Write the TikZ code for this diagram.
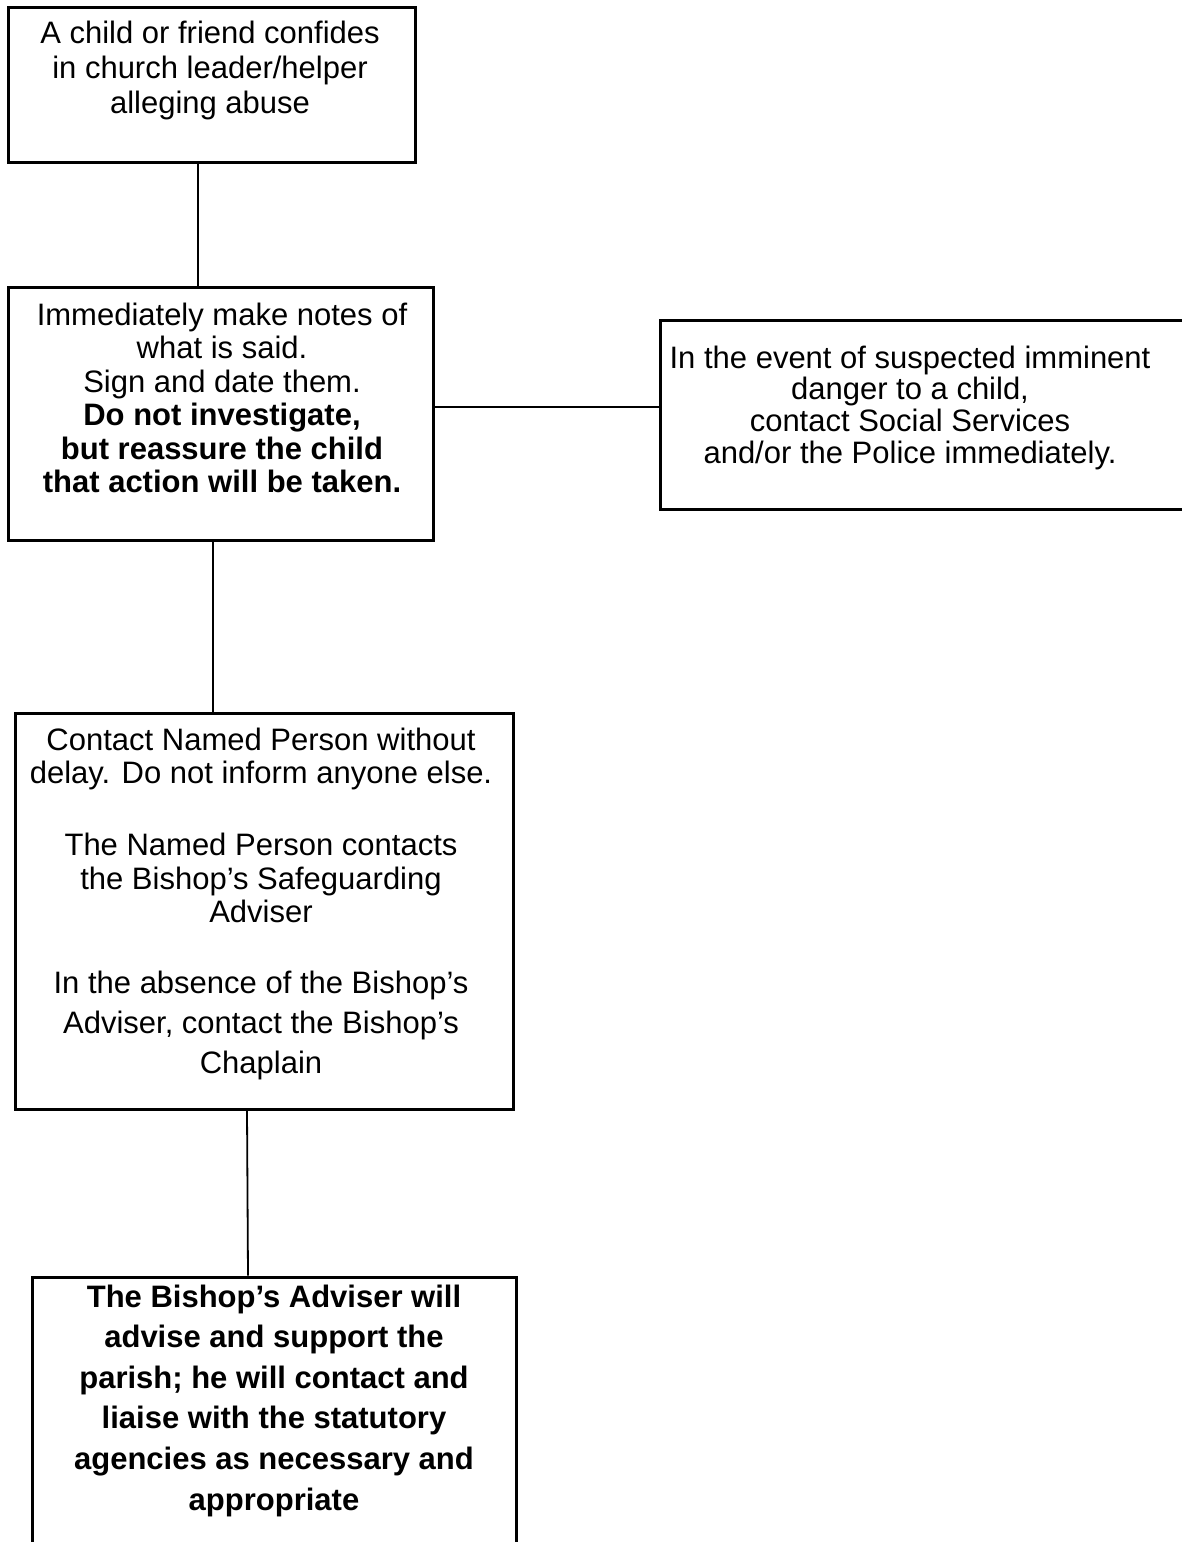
\documentclass[tikz,border=0pt]{standalone}
\usepackage{fontspec}
\setmainfont{Liberation Sans}
\begin{document}
\begin{tikzpicture}[x=1pt,y=-1pt,
  boxstyle/.style={draw=black,line width=3pt,rectangle,inner sep=0pt},
  conn/.style={draw=black,line width=1.8pt},
  txt/.style={align=center,inner sep=0pt,anchor=north,font=\fontsize{31}{33.5}\selectfont}]
\useasboundingbox (0,0) rectangle (1182,1542);
\clip (0,0) rectangle (1182,1542);
% boxes
\node[boxstyle,minimum width=407pt,minimum height=155pt] (b1) at (211.5,84.5) {};
\node[boxstyle,minimum width=425pt,minimum height=253pt] (b2) at (220.5,413.5) {};
\node[boxstyle,minimum width=540pt,minimum height=189pt] (b3) at (930,414.5) {};
\node[boxstyle,minimum width=498pt,minimum height=396pt] (b4) at (264,911) {};
\node[boxstyle,minimum width=484pt,minimum height=300pt] (b5) at (274,1427) {};
% texts
\node[txt,font=\fontsize{31}{35}\selectfont] (t1) at (210,20.5) {A child or friend confides\\in church leader/helper\\alleging abuse};
\node[txt] (t2) at (222,302.5) {Immediately make notes of\\what is said.\\Sign and date them.\\\textbf{Do not investigate,}\\\textbf{but reassure the child}\\\textbf{that action will be taken.}};
\node[txt,font=\fontsize{31}{31.7}\selectfont] (t3) at (910,345.5) {In the event of suspected imminent\\danger to a child,\\contact Social Services\\and/or the Police immediately.};
\node[txt] (t4) at (261,727.5) {Contact Named Person without\\delay. Do not inform anyone else.\\[38.5pt]The Named Person contacts\\the Bishop’s Safeguarding\\Adviser\\[37.5pt]In the absence of the Bishop’s\\[6.5pt]Adviser, contact the Bishop’s\\[6.5pt]Chaplain};
\node[txt,font=\bfseries\fontsize{31}{40.6}\selectfont] (t5) at (274,1284.5) {The Bishop’s Adviser will\\advise and support the\\parish; he will contact and\\liaise with the statutory\\agencies as necessary and\\appropriate};
% connectors
\draw[conn] ([xshift=-13.5pt]b1.south) -- ([xshift=-22.5pt]b2.north);
\draw[conn] ([yshift=6.5pt]b2.east) -- ([yshift=7.5pt]b3.west);
\draw[conn] ([xshift=-7.5pt]b2.south) -- ([xshift=-51pt]b4.north);
\draw[conn] ([xshift=-17pt]b4.south) -- ([xshift=-26pt]b5.north);
\end{tikzpicture}
\end{document}
